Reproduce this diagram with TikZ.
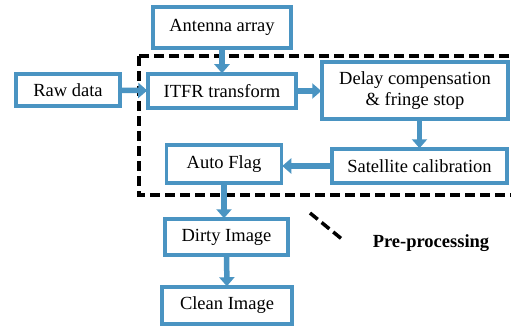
\documentclass[tikz,border=0pt]{standalone}
\usepackage{fontspec}
\setmainfont{Liberation Serif}
\usetikzlibrary{arrows.meta}

\begin{document}
\begin{tikzpicture}[x=1pt, y=-1pt]
  \definecolor{boxblue}{RGB}{74,148,194}
  \tikzset{
    block/.style={draw=boxblue, line width=3.5pt, fill=white, align=center,
      inner sep=0pt, font=\fontsize{18.5}{21}\selectfont},
    flow/.style={draw=boxblue, line width=5.5pt,
      -{Triangle[width=15pt, length=9pt]}, shorten >=-1pt}
  }
  \useasboundingbox (0, 0) rectangle (511, 329);

  % pre-processing frame
  \draw [black, line width=3.5pt, dash pattern=on 10pt off 5pt] (139, 56) rectangle (530, 195);
  \draw [black, line width=3.5pt, dash pattern=on 10pt off 5pt] (310, 213) -- (343, 240);
  \node [font=\fontsize{18.5}{21}\selectfont\bfseries] (pre) at (431, 243) {Pre-processing};

  \node [block, minimum width=138pt, minimum height=41pt] (antenna) at (222, 27.5) {Antenna array};
  \node [block, minimum width=148pt, minimum height=34pt] (itfr) at (222, 91) {ITFR transform};
  \node [block, minimum width=104pt, minimum height=32pt] (raw) at (68, 90) {Raw data};
  \node [block, minimum width=186pt, minimum height=57pt] (delay) at (415, 90.5) {Delay compensation\\\& fringe stop};
  \node [block, minimum width=175pt, minimum height=34pt] (sat) at (419.5, 166) {Satellite calibration};
  \node [block, minimum width=115pt, minimum height=38pt] (flag) at (224, 164) {Auto Flag};
  \node [block, minimum width=123pt, minimum height=36pt] (dirty) at (226.5, 237) {Dirty Image};
  \node [block, minimum width=130pt, minimum height=37pt] (clean) at (227, 305.5) {Clean Image};

  \draw [flow] (antenna) -- (itfr);
  \draw [flow] (raw) -- (itfr);
  \draw [flow] (itfr.east) -- (itfr.east -| delay.west);
  \draw [flow] (sat.north |- delay.south) -- (sat.north);
  \draw [flow] (sat.west) -- (sat.west -| flag.east);
  \draw [flow] (flag.south) -- (flag.south |- dirty.north);
  \draw [flow] (dirty) -- (clean);
\end{tikzpicture}
\end{document}
